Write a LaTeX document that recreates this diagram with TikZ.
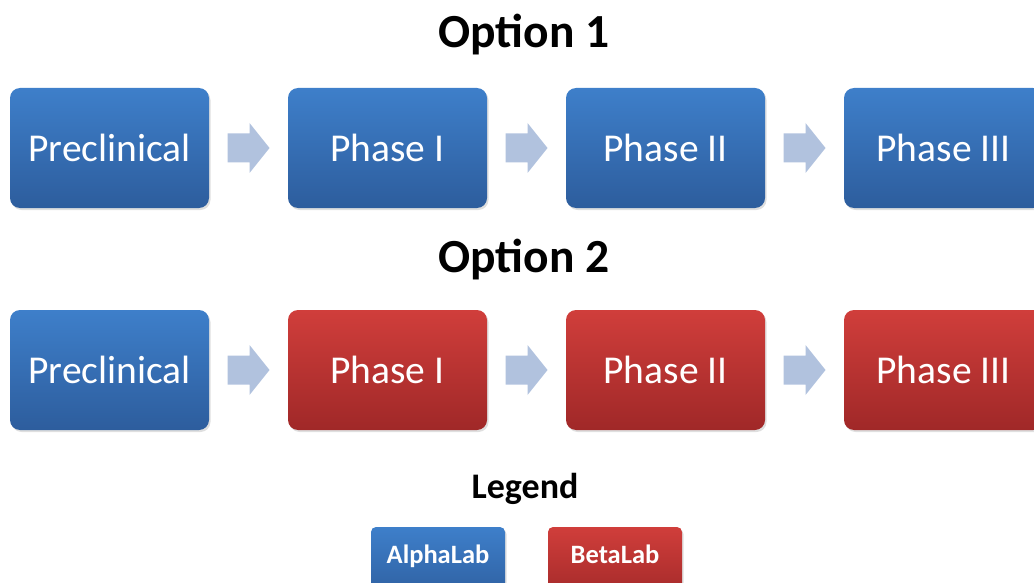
\documentclass[tikz,border=0pt]{standalone}
\usepackage{fontspec}
\setmainfont{Carlito}
\usetikzlibrary{calc,shadows}
\definecolor{bluetop}{RGB}{62,127,202}
\definecolor{bluebot}{RGB}{45,93,157}
\definecolor{redtop}{RGB}{208,62,59}
\definecolor{redbot}{RGB}{160,40,40}
\definecolor{arrowfill}{RGB}{177,194,222}
\tikzset{
  phasebox/.style={rectangle, rounded corners=10pt, minimum width=199pt, minimum height=120pt,
    inner sep=0pt, text=white, font=\fontsize{39.5}{40}\selectfont,
    drop shadow={opacity=0.25, shadow xshift=1.5pt, shadow yshift=-2pt}},
  alpha/.style={top color=bluetop, bottom color=bluebot},
  beta/.style={top color=redtop, bottom color=redbot},
  legbox/.style={rectangle, rounded corners=5pt, minimum width=134pt, minimum height=76pt,
    inner sep=0pt, drop shadow={opacity=0.25, shadow xshift=1.5pt, shadow yshift=-2pt}},
  legtext/.style={text=white, font=\bfseries\fontsize{26.5}{28}\selectfont, anchor=base},
  title/.style={font=\bfseries\fontsize{47.5}{48}\selectfont, anchor=base},
  blockarrow/.style={fill=arrowfill},
}
\newcommand\blockarr[2]{%
  \coordinate (#1) at ($(#2)$);
  \fill[blockarrow] ($(#1)+(-21,-14.5)$) -- ($(#1)+(1,-14.5)$) -- ($(#1)+(1,-25)$) -- ($(#1)+(21,0)$)
    -- ($(#1)+(1,25)$) -- ($(#1)+(1,14.5)$) -- ($(#1)+(-21,14.5)$) -- cycle;}
\begin{document}
\begin{tikzpicture}[x=1pt,y=-1pt]
\useasboundingbox (0,0) rectangle (1034,583);
\clip (0,0) rectangle (1034,583);
\node[title] (opt1) at (524,48) {Option 1};
\node[title] (opt2) at (524,272) {Option 2};
% row 1
\node[phasebox,alpha,text depth=0pt] (a1) at (109.5,148) {};
\node[phasebox,alpha] (a2) at (387.5,148) {};
\node[phasebox,alpha] (a3) at (665.5,148) {};
\node[phasebox,alpha] (a4) at (943.5,148) {};
\node[text=white, font=\fontsize{39.5}{40}\selectfont, anchor=base] (a1t) at (109.5,161) {Preclinical};
\node[text=white, font=\fontsize{39.5}{40}\selectfont, anchor=base] (a2t) at (387.5,161) {Phase I};
\node[text=white, font=\fontsize{39.5}{40}\selectfont, anchor=base] (a3t) at (665.5,161) {Phase II};
\node[text=white, font=\fontsize{39.5}{40}\selectfont, anchor=base] (a4t) at (943.5,161) {Phase III};
\blockarr{r1a}{$(a1.east)!0.5!(a2.west)$}
\blockarr{r1b}{$(a2.east)!0.5!(a3.west)$}
\blockarr{r1c}{$(a3.east)!0.5!(a4.west)$}
% row 2
\node[phasebox,alpha] (b1) at (109.5,370) {};
\node[phasebox,beta] (b2) at (387.5,370) {};
\node[phasebox,beta] (b3) at (665.5,370) {};
\node[phasebox,beta] (b4) at (943.5,370) {};
\node[text=white, font=\fontsize{39.5}{40}\selectfont, anchor=base] (b1t) at (109.5,383) {Preclinical};
\node[text=white, font=\fontsize{39.5}{40}\selectfont, anchor=base] (b2t) at (387.5,383) {Phase I};
\node[text=white, font=\fontsize{39.5}{40}\selectfont, anchor=base] (b3t) at (665.5,383) {Phase II};
\node[text=white, font=\fontsize{39.5}{40}\selectfont, anchor=base] (b4t) at (943.5,383) {Phase III};
\blockarr{r2a}{$(b1.east)!0.5!(b2.west)$}
\blockarr{r2b}{$(b2.east)!0.5!(b3.west)$}
\blockarr{r2c}{$(b3.east)!0.5!(b4.west)$}
% legend
\node[font=\bfseries\fontsize{36}{38}\selectfont, anchor=base] (leg) at (525,498) {Legend};
\node[legbox,alpha] (la) at (438,565) {};
\node[legbox,beta] (lb) at (615,565) {};
\node[legtext] (lat) at (438,563) {AlphaLab};
\node[legtext] (lbt) at (615,563) {BetaLab};
\end{tikzpicture}
\end{document}
